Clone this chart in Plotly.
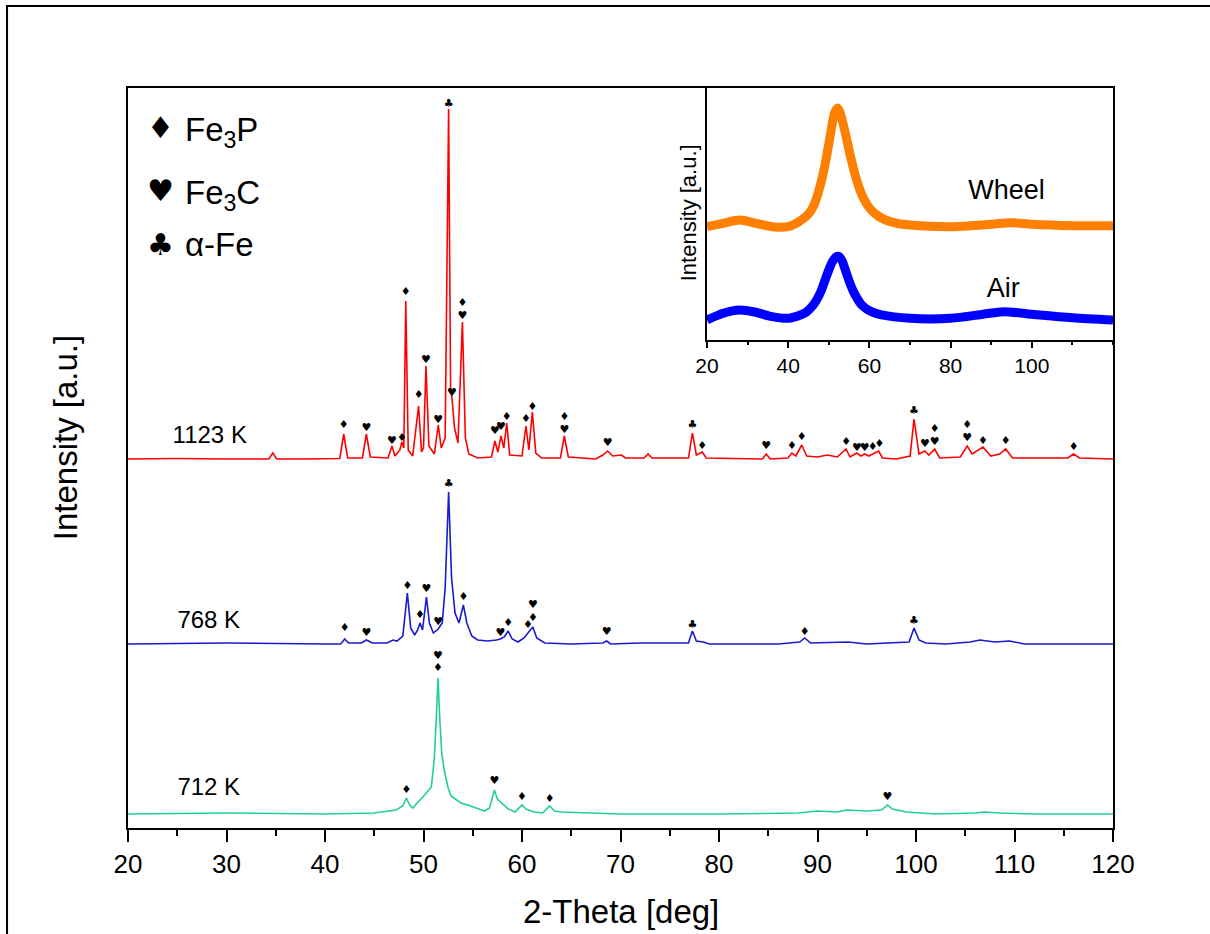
import plotly.graph_objects as go

# ---------------- main XRD patterns (2-theta in deg, intensity a.u., offset stacked) -------------
red_x = [20, 25, 30, 34.3, 34.7, 35.1, 38, 41.5, 41.9, 42.3, 43.8, 44.2, 44.6, 46.4, 46.8, 47.1,
         47.6, 47.8, 48.0, 48.2, 48.45, 48.9, 49.5, 49.8, 50.0, 50.25, 50.55, 51.1, 51.5, 51.8,
         52.2, 52.55, 52.75, 52.9, 53.15, 53.5, 53.95, 54.25, 54.6, 55.5, 56.9, 57.25, 57.55,
         57.87, 58.15, 58.45, 58.75, 60.0, 60.4, 60.7, 61.05, 61.4, 62, 63.9, 64.3, 64.7, 67.5,
         68.2, 68.7, 69.2, 70.1, 70.5, 72.4, 72.8, 73.2, 76.9, 77.3, 77.7, 78.3, 78.7, 84.4, 84.8,
         85.2, 87.0, 87.4, 87.8, 88.4, 88.9, 90, 91, 92.0, 92.9, 93.3, 94.0, 94.4, 94.8, 95.2,
         95.6, 96.2, 96.6, 98, 99.4, 99.8, 100.3, 100.9, 101.3, 101.9, 102.4, 104.5, 105.2, 105.7,
         106.8, 107.6, 108.5, 109.1, 109.8, 115.4, 116.0, 116.6, 120]
red_y = [369, 369.5, 369, 369, 375, 369, 369, 369.5, 394, 370, 370, 394, 371, 370, 382, 372,
         378, 386, 380, 527, 378, 372, 422, 376, 380, 462, 382, 374, 403, 380,
         390, 719, 440, 429, 400, 385, 506, 390, 374, 370, 371, 387, 376,
         392, 380, 405, 373, 372, 402, 378, 416, 375, 370, 370, 392, 371, 369,
         373, 377, 372, 373, 370, 370, 374, 370, 370, 395, 373, 376, 370, 369, 374,
         369, 370, 375, 372, 383, 372, 371, 373, 371, 379, 371, 375, 372, 374, 372,
         374, 377, 370, 369, 372, 409, 374, 377, 373, 379, 370, 371, 382, 374,
         381, 372, 374, 379, 370, 370, 374, 370, 369]

blue_x = [20, 30, 40, 41.6, 42.0, 42.4, 43.7, 44.2, 44.8, 46.3, 46.9, 47.3, 47.9, 48.36, 48.7,
          49.1, 49.4, 49.65, 49.9, 50.3, 50.6, 51.0, 51.5, 51.9, 52.2, 52.55, 52.85, 53.2, 53.6,
          54.05, 54.4, 54.9, 55.5, 56.5, 57.4, 57.8, 58.2, 58.6, 59.0, 59.6, 60.2, 60.6, 61.1,
          61.5, 62.3, 65, 68.2, 68.6, 69.0, 72, 76.9, 77.3, 77.7, 78.4, 79, 86, 88.2, 88.7, 89.3,
          93.1, 95, 99.3, 99.8, 100.3, 101, 103, 104, 105.5, 106.5, 108, 109.5, 111, 120]
blue_y = [184, 185, 184, 184, 189, 185, 185, 188, 185, 185, 188, 187, 192, 235, 200,
          193, 198, 205, 198, 231, 205, 195, 199, 205, 240, 336, 250, 215, 205,
          223, 205, 192, 188, 187, 188, 189, 191, 197, 189, 186, 190, 195, 201,
          190, 185, 184, 185, 187, 184, 185, 185, 197, 187, 186, 184, 184, 186, 190, 185,
          186, 184, 186, 200, 188, 185, 184, 185, 186, 188, 186, 187, 184, 184]

green_x = [20, 30, 40, 45, 47.2, 47.9, 48.26, 48.6, 48.9, 49.6, 50.1, 50.8, 51.1, 51.3, 51.47,
           51.65, 51.85, 52.1, 52.5, 52.8, 53.8, 54.8, 56.2, 56.7, 57.2, 57.5, 57.9, 58.6, 59.3,
           60.0, 60.4, 61.2, 62.1, 62.8, 63.3, 64.0, 70, 80, 88, 90, 92, 93, 95, 96.5, 97.1,
           97.6, 99, 102, 106, 107, 108.5, 112, 120]
green_y = [14, 15, 14, 15, 18, 22, 30, 23, 20, 27, 33, 41, 70, 110, 150,
           110, 75, 58, 40, 32, 25, 22, 17, 20, 38, 29, 25, 19, 16,
           23, 19, 16, 15, 22, 17, 16, 14, 14, 15, 17, 16, 18, 17, 18, 23,
           19, 16, 14, 15, 16, 15, 14, 14]

# phase markers: D = Fe3P (diamond), H = Fe3C (heart), C = alpha-Fe (club)
red_mark_x = [41.9, 44.2, 46.8, 47.8, 48.2, 49.5, 50.25, 51.5, 52.55, 52.9, 53.95, 53.95, 57.25,
              57.87, 58.45, 60.4, 61.05, 64.3, 64.3, 68.7, 77.3, 78.3, 84.8, 87.4, 88.4, 92.9,
              94.0, 94.8, 95.6, 96.3, 99.8, 100.9, 101.9, 101.9, 105.2, 105.2, 106.8, 109.1, 116.0]
red_mark_y = [403, 400, 387, 390, 536, 433, 468, 408, 724, 435, 525, 512, 397,
              401, 411, 409, 421, 411, 398, 385, 403, 382, 382, 382, 391, 386,
              380, 380, 381, 384, 417, 384, 399, 386, 403, 390, 387, 387, 381]
red_mark_s = ["D", "H", "H", "D", "D", "D", "H", "H", "C", "H", "D", "H", "H",
              "H", "D", "D", "D", "D", "H", "H", "C", "D", "H", "D", "D", "D",
              "H", "H", "D", "D", "C", "H", "D", "H", "D", "H", "D", "D", "D"]

blue_mark_x = [42.0, 44.2, 48.36, 49.65, 50.3, 51.5, 52.55, 54.05, 57.8, 58.6, 60.6, 61.1, 61.1,
               68.6, 77.3, 88.7, 99.8]
blue_mark_y = [200, 195, 242, 213, 239, 206, 344, 231, 195, 205, 203, 210, 223,
               196, 203, 196, 207]
blue_mark_s = ["D", "H", "D", "D", "H", "H", "C", "D", "H", "D", "D", "D", "H",
               "H", "C", "D", "C"]

green_mark_x = [48.26, 51.47, 51.47, 57.2, 60.0, 62.8, 97.1]
green_mark_y = [38, 160, 172, 47, 31, 29, 31]
green_mark_s = ["D", "D", "H", "H", "D", "D", "H"]

sample_labels = ["1123 K", "768 K", "712 K"]
sample_label_x = [28.3, 28.2, 28.2]
sample_label_y = [391, 206, 39]

legend_symbols = ["\u2666", "\u2665", "\u2663"]
legend_texts = ["Fe<sub>3</sub>P", "Fe<sub>3</sub>C", "\u03b1-Fe"]

# ---------------- inset (amorphous ribbons) ----------------
wheel_x = [20, 24, 28, 32, 36, 40, 42, 44, 45, 46, 47, 48, 49, 50, 50.8, 51.5, 52.2, 52.9,
           53.6, 54.5, 55.5, 56.5, 57.5, 58.5, 60, 62, 64, 67, 70, 80, 90, 95, 100, 110, 120]
wheel_y = [113.3, 116.7, 120, 116.7, 113.3, 113.3, 116.7, 122.3, 126, 132, 142, 156, 174, 196,
           215, 228, 232, 226, 215, 199, 181, 165, 152, 142, 132, 124.5, 120, 116.5, 115,
           113.3, 115.7, 117.3, 115.7, 114.3, 114.3]
air_x = [20, 24, 28, 32, 36, 40, 43, 44.5, 46, 47, 48, 49, 50, 51, 51.8, 52.5, 53.3, 54, 55,
         56, 57, 58, 59.5, 61, 63, 70, 80, 88, 93, 100, 110, 120]
air_y = [20, 26.7, 30, 27.7, 23.3, 21.7, 25, 28, 34, 40, 48, 59, 70, 79, 83, 83.5, 79, 71, 59,
         49, 41.5, 35.5, 30.5, 27.5, 25, 21.7, 21.7, 25.7, 28.3, 25.7, 22.3, 20]
inset_labels = ["Wheel", "Air"]
inset_label_x = [93.8, 93.0]
inset_label_y = [148, 50]

SYM = {"D": "\u2666", "H": "\u2665", "C": "\u2663"}
FONT = "Arial, Liberation Sans, sans-serif"

fig = go.Figure()
for xs, ys, col in [(red_x, red_y, "#ff0000"), (blue_x, blue_y, "#1a1ad0"),
                    (green_x, green_y, "#1fd18f")]:
    fig.add_trace(go.Scatter(x=xs, y=ys, mode="lines", line=dict(color=col, width=1.6),
                             showlegend=False, hoverinfo="skip"))
for mx, my, ms in [(red_mark_x, red_mark_y, red_mark_s), (blue_mark_x, blue_mark_y, blue_mark_s),
                   (green_mark_x, green_mark_y, green_mark_s)]:
    fig.add_trace(go.Scatter(x=mx, y=my, mode="text", text=[SYM[s] for s in ms],
                             textposition="middle center",
                             textfont=dict(family="DejaVu Sans", size=11, color="black"),
                             showlegend=False, hoverinfo="skip"))
fig.add_trace(go.Scatter(x=sample_label_x, y=sample_label_y, mode="text", text=sample_labels,
                         textposition="middle center",
                         textfont=dict(family=FONT, size=24, color="black"),
                         showlegend=False, hoverinfo="skip"))

# inset traces
fig.add_trace(go.Scatter(x=wheel_x, y=wheel_y, mode="lines",
                         line=dict(color="#ff8000", width=9, shape="spline", smoothing=0.8),
                         xaxis="x2", yaxis="y2", showlegend=False, hoverinfo="skip"))
fig.add_trace(go.Scatter(x=air_x, y=air_y, mode="lines",
                         line=dict(color="#0000ff", width=9, shape="spline", smoothing=0.8),
                         xaxis="x2", yaxis="y2", showlegend=False, hoverinfo="skip"))
fig.add_trace(go.Scatter(x=inset_label_x, y=inset_label_y, mode="text", text=inset_labels,
                         textposition="middle center",
                         textfont=dict(family=FONT, size=27, color="black"),
                         xaxis="x2", yaxis="y2", showlegend=False, hoverinfo="skip"))

annotations = []
leg_y = [0.946, 0.862, 0.788]
for i in range(3):
    annotations.append(dict(xref="paper", yref="paper", x=0.0335, y=leg_y[i], text=legend_symbols[i],
                            showarrow=False, xanchor="center", yanchor="middle",
                            font=dict(family="DejaVu Sans", size=30, color="black")))
    annotations.append(dict(xref="paper", yref="paper", x=0.0555, y=leg_y[i] - (0.006 if i < 2 else 0),
                            text=legend_texts[i], showarrow=False, xanchor="left", yanchor="middle",
                            font=dict(family=FONT, size=33, color="black")))
annotations.append(dict(xref="paper", yref="paper", x=0.5, y=-0.1135, text="2-Theta [deg]",
                        showarrow=False, xanchor="center", yanchor="middle",
                        font=dict(family=FONT, size=33, color="black")))
annotations.append(dict(xref="paper", yref="paper", x=-0.064, y=0.528, text="Intensity [a.u.]",
                        showarrow=False, xanchor="center", yanchor="middle", textangle=-90,
                        font=dict(family=FONT, size=33, color="black")))
annotations.append(dict(xref="paper", yref="paper", x=0.5685, y=0.832, text="Intensity [a.u.]",
                        showarrow=False, xanchor="center", yanchor="middle", textangle=-90,
                        font=dict(family=FONT, size=22, color="black")))

fig.update_layout(
    width=1210, height=934, autosize=False,
    margin=dict(l=128, r=97, t=88, b=106, pad=0),
    paper_bgcolor="white", plot_bgcolor="white",
    annotations=annotations,
    xaxis=dict(range=[20, 120], dtick=10, tick0=20, showgrid=False, zeroline=False,
               showline=True, linecolor="black", linewidth=2, mirror=True,
               ticks="outside", ticklen=12, tickwidth=2, tickcolor="black",
               minor=dict(dtick=5, ticks="outside", ticklen=6, tickwidth=2, tickcolor="black"),
               tickfont=dict(family=FONT, size=26, color="black")),
    yaxis=dict(range=[0, 740], showgrid=False, zeroline=False, showticklabels=False,
               showline=True, linecolor="black", linewidth=2, mirror=True, ticks=""),
    xaxis2=dict(domain=[0.5878, 1.0], anchor="y2", range=[20, 120], tick0=20, dtick=20,
                showgrid=False, zeroline=False, showline=True, linecolor="black", linewidth=1.5,
                mirror=True, ticks="outside", ticklen=6, tickwidth=1.5, tickcolor="black",
                minor=dict(dtick=10, ticks="outside", ticklen=3, tickwidth=1.5, tickcolor="black"),
                tickvals=[20, 40, 60, 80, 100],
                tickfont=dict(family=FONT, size=21, color="black")),
    yaxis2=dict(domain=[0.6595, 1.0], anchor="x2", range=[0, 252], showgrid=False,
                zeroline=False, showticklabels=False, showline=True, linecolor="black",
                linewidth=1.5, mirror=True, ticks=""),
    shapes=[dict(type="rect", xref="paper", yref="paper", x0=-0.1228, y0=-0.16, x1=1.11, y1=1.1108,
                 line=dict(color="black", width=2), fillcolor="rgba(0,0,0,0)", layer="above")],
)

fig.write_html("out.html")
